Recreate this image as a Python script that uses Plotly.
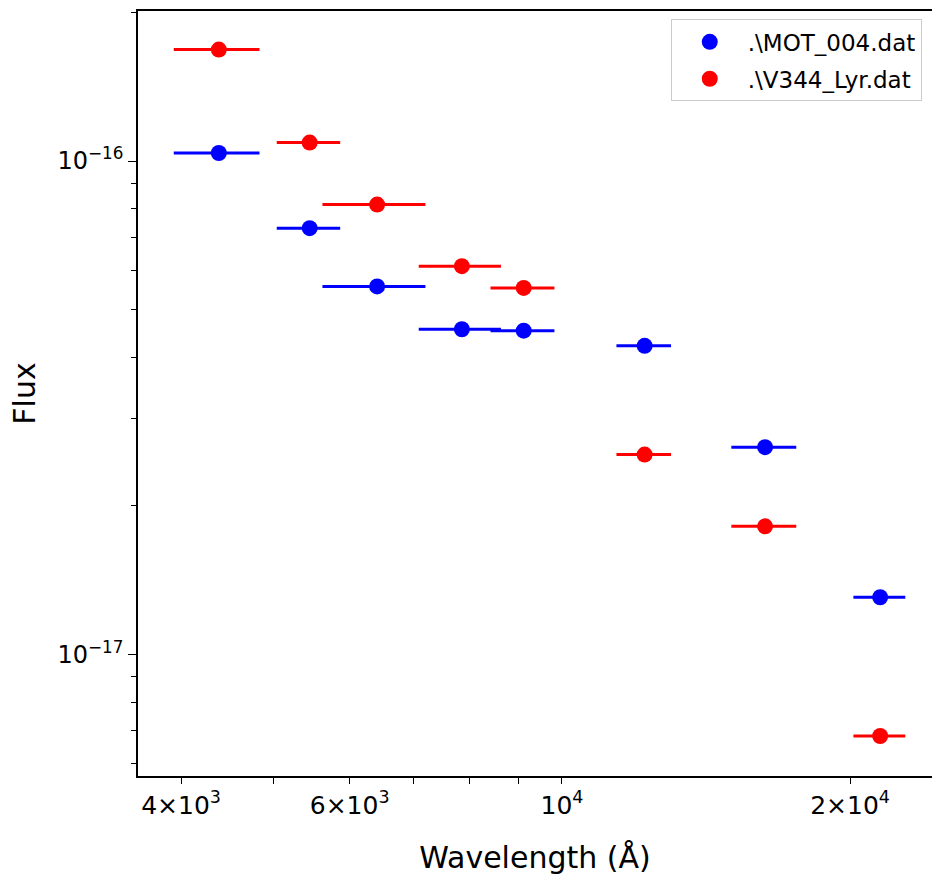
import numpy as np
import plotly.graph_objects as go

# Wavelengths (Angstrom) and half-widths of the filter bands
wavelength = [4380, 5450, 6410, 7860, 9120, 12200, 16300, 21500]
bandwidth = [450, 415, 790, 775, 700, 800, 1270, 1340]

# Fluxes
flux_mot = [1.038e-16, 7.31e-17, 5.57e-17, 4.56e-17, 4.53e-17, 4.22e-17, 2.63e-17, 1.305e-17]
flux_v344 = [1.682e-16, 1.090e-16, 8.16e-17, 6.12e-17, 5.53e-17, 2.54e-17, 1.817e-17, 6.83e-18]

series_names = [".\\MOT_004.dat", ".\\V344_Lyr.dat"]

x_tickvals = [4000, 6000, 10000, 20000]
x_ticktext = ["4\u00d710<sup>3</sup>", "6\u00d710<sup>3</sup>", "10<sup>4</sup>", "2\u00d710<sup>4</sup>"]
x_minor = [5000, 7000, 8000, 9000]
y_tickvals = [1e-16, 1e-17]
y_ticktext = ["10<sup>\u221216</sup>", "10<sup>\u221217</sup>"]
y_minor = [2e-16, 9e-17, 8e-17, 7e-17, 6e-17, 5e-17, 4e-17, 3e-17, 2e-17, 9e-18, 8e-18, 7e-18, 6e-18]

FONT = "DejaVu Sans"
fig = go.Figure()
for name, flux, col in [(series_names[0], flux_mot, "#0000ff"), (series_names[1], flux_v344, "#ff0000")]:
    fig.add_trace(go.Scatter(
        x=wavelength, y=flux, mode="markers", name=name, legendgroup=name,
        marker=dict(color=col, size=16, symbol="circle"),
        error_x=dict(type="data", array=bandwidth, symmetric=True, color=col, thickness=3, width=0),
    ))

fig.update_layout(
    width=932, height=879,
    margin=dict(l=138, r=0, t=11, b=103),
    paper_bgcolor="white", plot_bgcolor="white",
    font=dict(family=FONT, color="black", size=23),
    showlegend=True,
    legend=dict(x=0.671, y=0.989, xanchor="left", yanchor="top",
                bordercolor="#cccccc", borderwidth=1, bgcolor="white",
                font=dict(size=23, family=FONT), itemwidth=66,
                traceorder="grouped", tracegroupgap=4),
)
fig.update_xaxes(
    type="log", range=[np.log10(3606), np.log10(24356)],
    showline=True, linecolor="black", linewidth=1.5, mirror=True,
    showgrid=False, zeroline=False,
    ticks="outside", ticklen=6, tickwidth=1.2, tickcolor="black",
    tickvals=x_tickvals, ticktext=x_ticktext,
    tickfont=dict(size=25, family=FONT),
    minor=dict(tickvals=x_minor, ticks="outside", ticklen=6, tickwidth=1, tickcolor="black", showgrid=False),
    title=dict(text="Wavelength (\u00c5)", font=dict(size=30, family=FONT), standoff=28),
)
fig.update_yaxes(
    type="log", range=[-17.2467, -15.6959],
    showline=True, linecolor="black", linewidth=1.5, mirror=False,
    showgrid=False, zeroline=False,
    ticks="outside", ticklen=8, tickwidth=1.2, tickcolor="black",
    tickvals=y_tickvals, ticktext=y_ticktext,
    tickfont=dict(size=24, family=FONT),
    minor=dict(tickvals=y_minor, ticks="outside", ticklen=5, tickwidth=1, tickcolor="black", showgrid=False),
    title=dict(text="Flux", font=dict(size=30, family=FONT), standoff=13),
)
fig.write_html("out.html", config={"displayModeBar": False},
               post_script="document.body.style.margin='0';document.body.style.overflow='hidden';")
